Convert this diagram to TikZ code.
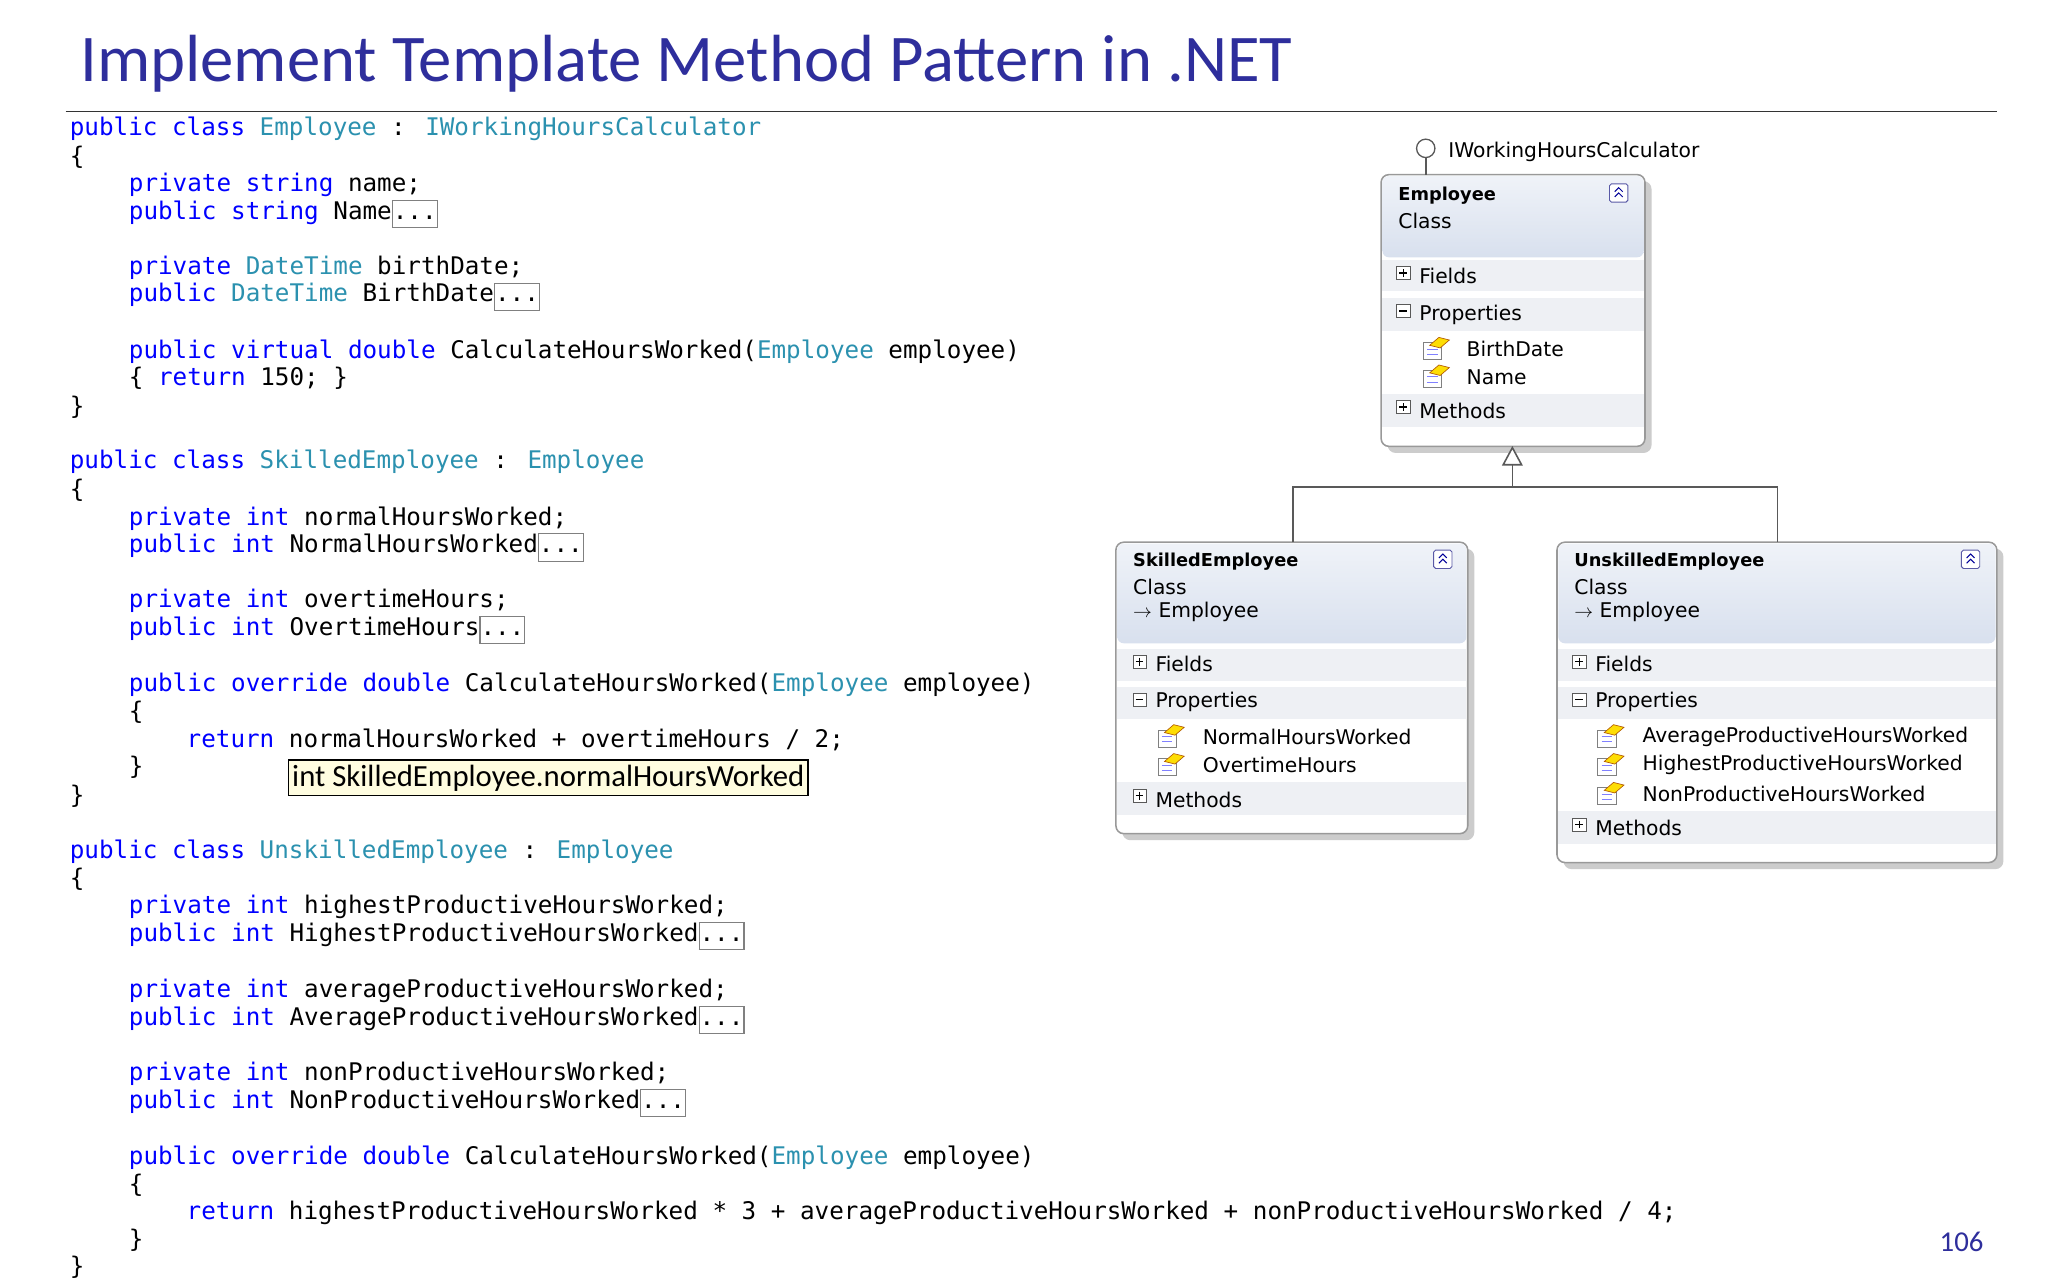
\documentclass[tikz,border=0pt]{standalone}
\usepackage{fontspec}
\setmainfont{Carlito}
\newfontfamily\codefont[Scale=1]{DejaVu Sans Mono}
\newfontfamily\umlfont{DejaVu Sans}
\usetikzlibrary{arrows.meta}
\definecolor{kw}{HTML}{0000FF}
\definecolor{ty}{HTML}{2B91AF}
\definecolor{ttl}{HTML}{2E2E9C}
\definecolor{band}{HTML}{EEF0F4}
\definecolor{hdr}{HTML}{D8E0EE}
\newcommand\kw[1]{\textcolor{kw}{#1}}
\newcommand\ty[1]{\textcolor{ty}{#1}}
\newcommand\dotbx{{\setlength\fboxsep{0pt}\setlength\fboxrule{0.8pt}\fcolorbox{gray}{white}{\strut...}}}
\tikzset{
 code/.style={anchor=base west,inner sep=0,font=\codefont\fontsize{18.55}{20}\selectfont},
 uml/.style={anchor=west,inner sep=0,font=\umlfont\fontsize{15.5}{17}\selectfont},
 umlb/.style={anchor=west,inner sep=0,font=\umlfont\bfseries\fontsize{13.6}{15}\selectfont},
 cbox/.style={draw=gray!80,line width=1.2pt,rounded corners=6pt,fill=white},
 shad/.style={fill=black!20,rounded corners=6pt},
 conn/.style={draw=gray!70!black,line width=1.2pt},
}
\newcommand\pmbox[3]{\draw[gray!70!black,fill=white,line width=0.6pt] (#1-5,#2-5) rectangle (#1+5,#2+5);
 \draw[line width=1pt] (#1-3,#2)--(#1+3,#2); \ifx#3p\draw[line width=1pt] (#1,#2-3)--(#1,#2+3);\fi}
\newcommand\picon[2]{\draw[gray,fill=white,line width=0.6pt] (#1-9,#2-5) rectangle (#1+5,#2+8);
 \draw[blue!50,line width=0.8pt] (#1-6,#2)--(#1+2,#2) (#1-6,#2+4)--(#1+2,#2+4);
 \fill[yellow!80!orange,draw=orange!70!black,line width=0.5pt] (#1-4,#2-3)--(#1+3,#2-9)--(#1+11,#2-7)--(#1+4,#2-1)--cycle;}
\newcommand\collapse[2]{\draw[gray!70!blue,fill=white,rounded corners=1.5pt,line width=0.7pt] (#1-7,#2-7) rectangle (#1+7,#2+7);
 \draw[blue!60!black,line width=0.8pt] (#1-3,#2-1)--(#1,#2-4)--(#1+3,#2-1) (#1-3,#2+3)--(#1,#2)--(#1+3,#2+3);}
\begin{document}
\begin{tikzpicture}[x=1bp,y=-1bp]
\useasboundingbox[fill=white] (0,0) rectangle (1560,975);
\node[anchor=base west,inner sep=0,text=ttl,font=\fontsize{51}{56}\selectfont] (title) at (61,62) {Implement Template Method Pattern in .NET};
\draw[black!80,line width=1.3pt] (50,85) -- (1521,85);
% code
\node[code] (c1) at (53,103) {\kw{public class} \ty{Employee} : \ty{IWorkingHoursCalculator}};
\node[code] (c2) at (53,125) {\{};
\node[code] (c3) at (98,146) {\kw{private string} name;};
\node[code] (c4) at (98,167) {\kw{public string} Name\dotbx};
\node[code] (c5) at (98,209) {\kw{private} \ty{DateTime} birthDate;};
\node[code] (c6) at (98,230) {\kw{public} \ty{DateTime} BirthDate\dotbx};
\node[code] (c7) at (98,273) {\kw{public virtual double} CalculateHoursWorked(\ty{Employee} employee)};
\node[code] (c8) at (98,294) {\{ \kw{return} 150; \}};
\node[code] (c9) at (53,316) {\}};
\node[code] (d1) at (53,357) {\kw{public class} \ty{SkilledEmployee} : \ty{Employee}};
\node[code] (d2) at (53,379) {\{};
\node[code] (d3) at (98,400) {\kw{private int} normalHoursWorked;};
\node[code] (d4) at (98,421) {\kw{public int} NormalHoursWorked\dotbx};
\node[code] (d5) at (98,463) {\kw{private int} overtimeHours;};
\node[code] (d6) at (98,484) {\kw{public int} OvertimeHours\dotbx};
\node[code] (d7) at (98,527) {\kw{public override double} CalculateHoursWorked(\ty{Employee} employee)};
\node[code] (d8) at (98,548) {\{};
\node[code] (d9) at (142,569) {\kw{return} normalHoursWorked + overtimeHours / 2;};
\node[code] (d10) at (98,590) {\}};
\node[code] (d11) at (53,612) {\}};
\node[draw=black,line width=1.2pt,fill=yellow!12,inner xsep=3pt,inner ysep=1pt,minimum height=27bp,anchor=west,font=\fontsize{23.5}{25}\selectfont] (tip) at (219,592.5) {int SkilledEmployee.normalHoursWorked};
\node[code] (e1) at (53,654) {\kw{public class} \ty{UnskilledEmployee} : \ty{Employee}};
\node[code] (e2) at (53,675) {\{};
\node[code] (e3) at (98,696) {\kw{private int} highestProductiveHoursWorked;};
\node[code] (e4) at (98,717) {\kw{public int} HighestProductiveHoursWorked\dotbx};
\node[code] (e5) at (98,760) {\kw{private int} averageProductiveHoursWorked;};
\node[code] (e6) at (98,781) {\kw{public int} AverageProductiveHoursWorked\dotbx};
\node[code] (e7) at (98,823) {\kw{private int} nonProductiveHoursWorked;};
\node[code] (e8) at (98,844) {\kw{public int} NonProductiveHoursWorked\dotbx};
\node[code] (e9) at (98,887) {\kw{public override double} CalculateHoursWorked(\ty{Employee} employee)};
\node[code] (e10) at (98,908) {\{};
\node[code] (e11) at (142,929) {\kw{return} highestProductiveHoursWorked * 3 + averageProductiveHoursWorked + nonProductiveHoursWorked / 4;};
\node[code] (e12) at (98,950) {\}};
\node[code] (e13) at (53,971) {\}};
\node[anchor=base east,inner sep=0,text=ttl,font=\fontsize{22}{24}\selectfont] (pg) at (1511,953) {106};
% ---- UML: Employee
\fill[shad] (1057,138) rectangle (1258,345);
\draw[cbox] (1052,133) rectangle (1253,340);
\shade[top color=white!60!hdr,bottom color=hdr,rounded corners=5pt] (1053,134) rectangle (1252,196);
\fill[band] (1053,198) rectangle (1252,222);
\fill[band] (1053,227) rectangle (1252,252);
\fill[band] (1053,300) rectangle (1252,325);
\node[umlb] (emp) at (1065,149) {Employee};
\node[uml] at (1065,168) {Class};
\collapse{1233}{147}
\pmbox{1069}{208}{p}\node[uml] at (1081,210) {Fields};
\pmbox{1069}{237}{m}\node[uml] at (1081,240) {Properties};
\picon{1093}{266}\node[uml] at (1117,266) {BirthDate};
\picon{1093}{287}\node[uml] at (1117,287) {Name};
\pmbox{1069}{310}{p}\node[uml] at (1081,313) {Methods};
\coordinate (lol) at (1086,113);
\draw[conn] (1086,120) -- (1086,133);
\draw[gray!70!black,fill=white,line width=1pt] (lol) circle (7);
\node[uml] (iw) at (1103,116) {IWorkingHoursCalculator};
% ---- Skilled
\fill[shad] (855,418) rectangle (1123,640);
\draw[cbox] (850,413) rectangle (1118,635);
\shade[top color=white!60!hdr,bottom color=hdr,rounded corners=5pt] (851,414) rectangle (1117,490);
\fill[band] (851,494) rectangle (1117,519);
\fill[band] (851,523) rectangle (1117,548);
\fill[band] (851,596) rectangle (1117,621);
\node[umlb] (sk) at (863,428) {SkilledEmployee};
\node[uml] at (863,447) {Class};
\node[uml] at (863,466) {$\to$ Employee};
\collapse{1099}{426}
\pmbox{868}{504}{p}\node[uml] at (880,506) {Fields};
\pmbox{868}{533}{m}\node[uml] at (880,535) {Properties};
\picon{891}{561}\node[uml] at (916,561) {NormalHoursWorked};
\picon{891}{583}\node[uml] at (916,583) {OvertimeHours};
\pmbox{868}{606}{p}\node[uml] at (880,609) {Methods};
% ---- Unskilled
\fill[shad] (1191,418) rectangle (1526,662);
\draw[cbox] (1186,413) rectangle (1521,657);
\shade[top color=white!60!hdr,bottom color=hdr,rounded corners=5pt] (1187,414) rectangle (1520,490);
\fill[band] (1187,494) rectangle (1520,519);
\fill[band] (1187,523) rectangle (1520,548);
\fill[band] (1187,618) rectangle (1520,643);
\node[umlb] (un) at (1199,428) {UnskilledEmployee};
\node[uml] at (1199,447) {Class};
\node[uml] at (1199,466) {$\to$ Employee};
\collapse{1501}{426}
\pmbox{1203}{504}{p}\node[uml] at (1215,506) {Fields};
\pmbox{1203}{533}{m}\node[uml] at (1215,535) {Properties};
\picon{1226}{561}\node[uml] at (1251,561) {AverageProductiveHoursWorked};
\picon{1226}{583}\node[uml] at (1251,583) {HighestProductiveHoursWorked};
\picon{1226}{605}\node[uml] at (1251,605) {NonProductiveHoursWorked};
\pmbox{1203}{628}{p}\node[uml] at (1215,631) {Methods};
% inheritance
\coordinate (tip0) at (1152,341);
\draw[conn] (985,413) -- (985,371) -- (1354,371) -- (1354,413);
\draw[conn] (1152,371) -- (1152,354);
\draw[gray!70!black,fill=white,line width=1.2pt] (tip0) -- (1145,354) -- (1159,354) -- cycle;
\end{tikzpicture}
\end{document}
